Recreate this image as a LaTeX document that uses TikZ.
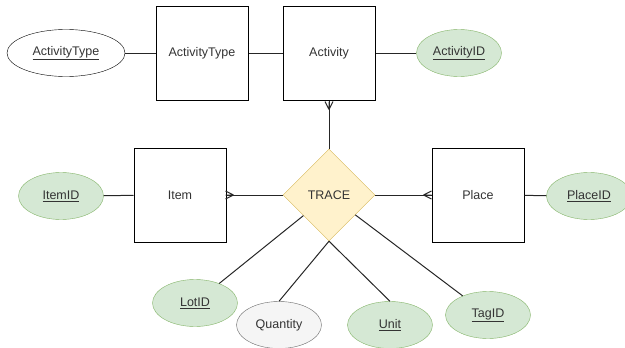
\documentclass[tikz,border=0pt]{standalone}
\usepackage{fontspec}
\setmainfont{Liberation Sans}
\usetikzlibrary{shapes.geometric, calc}

\definecolor{keyfill}{HTML}{D5E8D4}
\definecolor{keyline}{HTML}{82B366}
\definecolor{relfill}{HTML}{FFF2CC}
\definecolor{relline}{HTML}{D6B656}
\definecolor{plainfill}{HTML}{F5F5F5}
\definecolor{plainline}{HTML}{666666}
\definecolor{txt}{HTML}{333333}

\begin{document}
\begin{tikzpicture}[
  x=1pt, y=-1pt,
  every node/.style={font=\fontsize{12.5}{15}\selectfont, text=txt},
  entity/.style={draw, line width=1pt, rectangle, minimum width=92pt, minimum height=94pt, inner sep=0pt},
  rel/.style={draw=relline, fill=relfill, diamond, minimum width=92pt, minimum height=92pt, inner sep=0pt},
  attr/.style={ellipse, minimum width=85pt, minimum height=47pt, inner sep=0pt},
  keyattr/.style={attr, draw=keyline, fill=keyfill},
  link/.style={line width=1pt, black!85},
  crow/.pic={\draw[link] (0,0) -- (8pt,4pt) (0,0) -- (8pt,0) (0,0) -- (8pt,-4pt);},
]
\useasboundingbox (0,0) rectangle (625,348);

% entities
\node[entity] (atype) at (202,53) {ActivityType};
\node[entity] (activity) at (329,53) {Activity};
\node[entity] (item) at (180,195) {Item};
\node[entity] (place) at (478,195) {Place};

% relationship
\node[rel] (trace) at (329,195) {TRACE};

% attributes
\node[attr, draw, minimum width=118pt] (atypeid) at (66,53) {\underline{ActivityType}};
\node[keyattr] (activityid) at (459,53) {\underline{ActivityID}};
\node[keyattr] (itemid) at (61,196) {\underline{ItemID}};
\node[keyattr] (placeid) at (589,196) {\underline{PlaceID}};
\node[keyattr] (lotid) at (195,303) {\underline{LotID}};
\node[attr, draw=plainline, fill=plainfill] (quantity) at (279,325) {Quantity};
\node[keyattr] (unit) at (390,325) {\underline{Unit}};
\node[keyattr] (tagid) at (488,315) {\underline{TagID}};

% connectors
\draw[link] (atypeid) -- (atype);
\draw[link] (atype) -- (activity);
\draw[link] (activity) -- (activityid);
\draw[link] (itemid) -- (item);
\draw[link] (place) -- (placeid);
\draw[link] (activity) -- (trace);
\draw[link] (item) -- (trace);
\draw[link] (trace) -- (place);
\draw[link] (trace) -- (lotid);
\draw[link] (trace.south) -- (quantity.north);
\draw[link] (trace.south) -- (unit.north);
\draw[link] (trace) -- (tagid);

% crow's feet on the entity ends
\pic[rotate=90] at ($(activity.south)+(0,9)$) {crow};
\pic[rotate=180] at ($(item.east)+(7,0)$) {crow};
\pic at ($(place.west)+(-8,0)$) {crow};
\end{tikzpicture}
\end{document}
